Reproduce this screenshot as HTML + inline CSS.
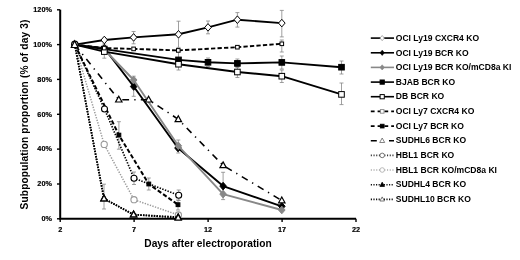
<!DOCTYPE html>
<html><head><meta charset="utf-8"><style>
html,body{margin:0;padding:0;background:#fff;}
svg{display:block;filter:grayscale(1);}
text{font-family:"Liberation Sans",sans-serif;font-weight:bold;fill:#000;}
.tk{font-size:7.3px;stroke:#000;stroke-width:0.2px;}
.lg{font-size:8.55px;}
.ti{font-size:10.2px;white-space:pre;}
</style></head><body>
<svg width="520" height="260" viewBox="0 0 520 260">
<rect width="520" height="260" fill="#fff"/>
<path d="M57.0 218.8H60.2" stroke="#000" stroke-width="1.4"/>
<text transform="translate(51.9,221.15) scale(0.92,1)" text-anchor="end" class="tk" style="font-size:7.9px">0%</text>
<path d="M57.0 184.0H60.2" stroke="#000" stroke-width="1.4"/>
<text transform="translate(51.9,186.31) scale(0.92,1)" text-anchor="end" class="tk" style="font-size:7.9px">20%</text>
<path d="M57.0 149.1H60.2" stroke="#000" stroke-width="1.4"/>
<text transform="translate(51.9,151.47) scale(0.92,1)" text-anchor="end" class="tk" style="font-size:7.9px">40%</text>
<path d="M57.0 114.3H60.2" stroke="#000" stroke-width="1.4"/>
<text transform="translate(51.9,116.63) scale(0.92,1)" text-anchor="end" class="tk" style="font-size:7.9px">60%</text>
<path d="M57.0 79.4H60.2" stroke="#000" stroke-width="1.4"/>
<text transform="translate(51.9,81.79) scale(0.92,1)" text-anchor="end" class="tk" style="font-size:7.9px">80%</text>
<path d="M57.0 44.6H60.2" stroke="#000" stroke-width="1.4"/>
<text transform="translate(51.9,46.95) scale(0.92,1)" text-anchor="end" class="tk" style="font-size:7.9px">100%</text>
<path d="M57.0 9.8H60.2" stroke="#000" stroke-width="1.4"/>
<text transform="translate(51.9,12.11) scale(0.92,1)" text-anchor="end" class="tk" style="font-size:7.9px">120%</text>
<path d="M60.2 218.8V222.0" stroke="#000" stroke-width="1.4"/>
<text transform="translate(60.2,232.3) scale(0.96,1)" text-anchor="middle" class="tk" style="font-size:7.6px">2</text>
<path d="M134.1 218.8V222.0" stroke="#000" stroke-width="1.4"/>
<text transform="translate(134.1,232.3) scale(0.96,1)" text-anchor="middle" class="tk" style="font-size:7.6px">7</text>
<path d="M208.1 218.8V222.0" stroke="#000" stroke-width="1.4"/>
<text transform="translate(208.1,232.3) scale(0.96,1)" text-anchor="middle" class="tk" style="font-size:7.6px">12</text>
<path d="M282.1 218.8V222.0" stroke="#000" stroke-width="1.4"/>
<text transform="translate(282.1,232.3) scale(0.96,1)" text-anchor="middle" class="tk" style="font-size:7.6px">17</text>
<path d="M356.0 218.8V222.0" stroke="#000" stroke-width="1.4"/>
<text transform="translate(356.0,232.3) scale(0.96,1)" text-anchor="middle" class="tk" style="font-size:7.6px">22</text>
<path d="M60.2 9.8V218.8H356.0" fill="none" stroke="#000" stroke-width="2"/>
<path d="M178.5 21.2V47.4M176.5 21.2H180.5M176.5 47.4H180.5" stroke="#888" stroke-width="0.8" fill="none"/>
<path d="M208.0 21.0V33.8M206.0 21.0H210.0M206.0 33.8H210.0" stroke="#888" stroke-width="0.8" fill="none"/>
<path d="M237.4 12.6V27.1M235.4 12.6H239.4M235.4 27.1H239.4" stroke="#888" stroke-width="0.8" fill="none"/>
<path d="M281.8 10.4V36.9M279.8 10.4H283.8M279.8 36.9H283.8" stroke="#888" stroke-width="0.8" fill="none"/>
<path d="M133.6 31.5V43.8M131.6 31.5H135.6M131.6 43.8H135.6" stroke="#888" stroke-width="0.8" fill="none"/>
<path d="M341.5 61.0V74.0M339.5 61.0H343.5M339.5 74.0H343.5" stroke="#888" stroke-width="0.8" fill="none"/>
<path d="M341.5 83.0V104.6M339.5 83.0H343.5M339.5 104.6H343.5" stroke="#888" stroke-width="0.8" fill="none"/>
<path d="M281.8 56.0V69.0M279.8 56.0H283.8M279.8 69.0H283.8" stroke="#888" stroke-width="0.8" fill="none"/>
<path d="M281.8 70.0V82.5M279.8 70.0H283.8M279.8 82.5H283.8" stroke="#888" stroke-width="0.8" fill="none"/>
<path d="M281.8 40.0V52.0M279.8 40.0H283.8M279.8 52.0H283.8" stroke="#888" stroke-width="0.8" fill="none"/>
<path d="M237.4 59.0V67.5M235.4 59.0H239.4M235.4 67.5H239.4" stroke="#888" stroke-width="0.8" fill="none"/>
<path d="M237.4 66.5V77.5M235.4 66.5H239.4M235.4 77.5H239.4" stroke="#888" stroke-width="0.8" fill="none"/>
<path d="M208.0 58.0V66.5M206.0 58.0H210.0M206.0 66.5H210.0" stroke="#888" stroke-width="0.8" fill="none"/>
<path d="M178.5 52.0V70.0M176.5 52.0H180.5M176.5 70.0H180.5" stroke="#888" stroke-width="0.8" fill="none"/>
<path d="M104.3 44.0V58.2M102.3 44.0H106.3M102.3 58.2H106.3" stroke="#888" stroke-width="0.8" fill="none"/>
<path d="M133.7 76.2V96.3M131.7 76.2H135.7M131.7 96.3H135.7" stroke="#888" stroke-width="0.8" fill="none"/>
<path d="M118.9 121.7V149.2M116.9 121.7H120.9M116.9 149.2H120.9" stroke="#888" stroke-width="0.8" fill="none"/>
<path d="M134.0 172.0V184.5M132.0 172.0H136.0M132.0 184.5H136.0" stroke="#888" stroke-width="0.8" fill="none"/>
<path d="M178.7 190.0V200.5M176.7 190.0H180.7M176.7 200.5H180.7" stroke="#888" stroke-width="0.8" fill="none"/>
<path d="M104.0 184.2V209.0M102.0 184.2H106.0M102.0 209.0H106.0" stroke="#888" stroke-width="0.8" fill="none"/>
<path d="M148.8 178.0V190.0M146.8 178.0H150.8M146.8 190.0H150.8" stroke="#888" stroke-width="0.8" fill="none"/>
<path d="M178.0 200.0V210.0M176.0 200.0H180.0M176.0 210.0H180.0" stroke="#888" stroke-width="0.8" fill="none"/>
<path d="M178.3 140.0V153.0M176.3 140.0H180.3M176.3 153.0H180.3" stroke="#888" stroke-width="0.8" fill="none"/>
<path d="M223.1 172.3V199.6M221.1 172.3H225.1M221.1 199.6H225.1" stroke="#888" stroke-width="0.8" fill="none"/>
<path d="M74.8 44.6L104.3 40.0L133.6 37.4L178.5 34.3L208.0 27.4L237.4 19.7L281.8 23.1" fill="none" stroke="#000" stroke-width="1.9" stroke-linecap="butt" stroke-linejoin="round"/>
<path d="M104.3 36.2L107.6 40.0L104.3 43.8L101.0 40.0Z" fill="#fff" stroke="#000" stroke-width="1.0"/>
<path d="M133.6 33.6L136.9 37.4L133.6 41.2L130.3 37.4Z" fill="#fff" stroke="#000" stroke-width="1.0"/>
<path d="M178.5 30.5L181.8 34.3L178.5 38.1L175.2 34.3Z" fill="#fff" stroke="#000" stroke-width="1.0"/>
<path d="M208.0 23.6L211.3 27.4L208.0 31.2L204.7 27.4Z" fill="#fff" stroke="#000" stroke-width="1.0"/>
<path d="M237.4 15.9L240.7 19.7L237.4 23.5L234.1 19.7Z" fill="#fff" stroke="#000" stroke-width="1.0"/>
<path d="M281.8 19.3L285.1 23.1L281.8 26.9L278.5 23.1Z" fill="#fff" stroke="#000" stroke-width="1.0"/>
<path d="M74.8 44.6L104.3 48.2L133.7 86.5L178.0 148.0L223.1 186.1L281.8 206.3" fill="none" stroke="#000" stroke-width="1.9" stroke-linecap="butt" stroke-linejoin="round"/>
<path d="M104.3 44.4L107.6 48.2L104.3 52.0L101.0 48.2Z" fill="#000" stroke="#000" stroke-width="1.0"/>
<path d="M133.7 82.7L137.0 86.5L133.7 90.3L130.4 86.5Z" fill="#000" stroke="#000" stroke-width="1.0"/>
<path d="M178.0 144.2L181.3 148.0L178.0 151.8L174.7 148.0Z" fill="#000" stroke="#000" stroke-width="1.0"/>
<path d="M223.1 182.3L226.4 186.1L223.1 189.9L219.8 186.1Z" fill="#000" stroke="#000" stroke-width="1.0"/>
<path d="M281.8 202.5L285.1 206.3L281.8 210.1L278.5 206.3Z" fill="#000" stroke="#000" stroke-width="1.0"/>
<path d="M74.8 44.6L104.3 49.5L133.7 80.0L178.3 145.8L223.1 194.1L281.8 210.0" fill="none" stroke="#888" stroke-width="1.9" stroke-linecap="butt" stroke-linejoin="round"/>
<path d="M104.3 45.7L107.6 49.5L104.3 53.3L101.0 49.5Z" fill="#888" stroke="#888" stroke-width="1.0"/>
<path d="M133.7 76.2L137.0 80.0L133.7 83.8L130.4 80.0Z" fill="#888" stroke="#888" stroke-width="1.0"/>
<path d="M178.3 142.0L181.6 145.8L178.3 149.6L175.0 145.8Z" fill="#888" stroke="#888" stroke-width="1.0"/>
<path d="M223.1 190.3L226.4 194.1L223.1 197.9L219.8 194.1Z" fill="#888" stroke="#888" stroke-width="1.0"/>
<path d="M281.8 206.2L285.1 210.0L281.8 213.8L278.5 210.0Z" fill="#888" stroke="#888" stroke-width="1.0"/>
<path d="M74.8 44.6L104.3 49.1L178.5 59.9L208.0 62.3L237.4 63.4L281.8 62.4L341.5 67.2" fill="none" stroke="#000" stroke-width="1.9" stroke-linecap="butt" stroke-linejoin="round"/>
<rect x="101.5" y="46.3" width="5.6" height="5.6" fill="#000" stroke="#000" stroke-width="1.0"/>
<rect x="175.7" y="57.1" width="5.6" height="5.6" fill="#000" stroke="#000" stroke-width="1.0"/>
<rect x="205.2" y="59.5" width="5.6" height="5.6" fill="#000" stroke="#000" stroke-width="1.0"/>
<rect x="234.6" y="60.6" width="5.6" height="5.6" fill="#000" stroke="#000" stroke-width="1.0"/>
<rect x="279.0" y="59.6" width="5.6" height="5.6" fill="#000" stroke="#000" stroke-width="1.0"/>
<rect x="338.7" y="64.4" width="5.6" height="5.6" fill="#000" stroke="#000" stroke-width="1.0"/>
<path d="M74.8 44.6L104.3 51.6L178.5 64.2L237.4 72.0L281.8 76.2L341.5 94.4" fill="none" stroke="#000" stroke-width="1.9" stroke-linecap="butt" stroke-linejoin="round"/>
<rect x="101.5" y="48.8" width="5.6" height="5.6" fill="#fff" stroke="#000" stroke-width="1.0"/>
<rect x="175.7" y="61.4" width="5.6" height="5.6" fill="#fff" stroke="#000" stroke-width="1.0"/>
<rect x="234.6" y="69.2" width="5.6" height="5.6" fill="#fff" stroke="#000" stroke-width="1.0"/>
<rect x="279.0" y="73.4" width="5.6" height="5.6" fill="#fff" stroke="#000" stroke-width="1.0"/>
<rect x="338.7" y="91.6" width="5.6" height="5.6" fill="#fff" stroke="#000" stroke-width="1.0"/>
<path d="M74.8 44.6L104.3 48.1L133.6 48.9L178.3 50.4L237.4 47.2L281.8 43.8" fill="none" stroke="#000" stroke-width="1.9" stroke-dasharray="4.3 2.2" stroke-linecap="butt" stroke-linejoin="round"/>
<rect x="102.5" y="46.3" width="3.6" height="3.6" fill="#fff" stroke="#000" stroke-width="1.0"/>
<rect x="131.8" y="47.1" width="3.6" height="3.6" fill="#fff" stroke="#000" stroke-width="1.0"/>
<rect x="176.5" y="48.6" width="3.6" height="3.6" fill="#fff" stroke="#000" stroke-width="1.0"/>
<rect x="235.6" y="45.4" width="3.6" height="3.6" fill="#fff" stroke="#000" stroke-width="1.0"/>
<rect x="280.0" y="42.0" width="3.6" height="3.6" fill="#fff" stroke="#000" stroke-width="1.0"/>
<path d="M74.8 44.6L118.9 135.1L148.8 184.0L178.0 204.7" fill="none" stroke="#000" stroke-width="2.0" stroke-dasharray="4.3 2.2" stroke-linecap="butt" stroke-linejoin="round"/>
<rect x="117.0" y="133.2" width="3.8" height="3.8" fill="#000" stroke="#000" stroke-width="1.0"/>
<rect x="146.9" y="182.1" width="3.8" height="3.8" fill="#000" stroke="#000" stroke-width="1.0"/>
<rect x="176.1" y="202.8" width="3.8" height="3.8" fill="#000" stroke="#000" stroke-width="1.0"/>
<path d="M74.8 44.6L118.8 99.7L148.6 99.7L178.3 119.3L223.1 165.4L281.8 200.5" fill="none" stroke="#000" stroke-width="1.6" stroke-dasharray="6.8 5.2 1.3 5.2" stroke-linecap="butt" stroke-linejoin="round"/>
<path d="M118.8 96.2L122.0 102.0L115.6 102.0Z" fill="#fff" stroke="#000" stroke-width="1.2" stroke-linejoin="miter"/>
<path d="M148.6 96.2L151.8 102.0L145.4 102.0Z" fill="#fff" stroke="#000" stroke-width="1.2" stroke-linejoin="miter"/>
<path d="M178.3 115.8L181.5 121.6L175.1 121.6Z" fill="#fff" stroke="#000" stroke-width="1.2" stroke-linejoin="miter"/>
<path d="M223.1 161.9L226.3 167.7L219.9 167.7Z" fill="#fff" stroke="#000" stroke-width="1.2" stroke-linejoin="miter"/>
<path d="M281.8 197.0L285.0 202.8L278.6 202.8Z" fill="#fff" stroke="#000" stroke-width="1.2" stroke-linejoin="miter"/>
<path d="M74.8 44.6L104.5 109.0L134.0 178.2L178.7 195.3" fill="none" stroke="#000" stroke-width="1.7" stroke-dasharray="1.4 1.4" stroke-linecap="butt" stroke-linejoin="round"/>
<circle cx="104.5" cy="109.0" r="3.0" fill="#fff" stroke="#000" stroke-width="1.1"/>
<circle cx="134.0" cy="178.2" r="3.0" fill="#fff" stroke="#000" stroke-width="1.1"/>
<circle cx="178.7" cy="195.3" r="3.0" fill="#fff" stroke="#000" stroke-width="1.1"/>
<path d="M74.8 44.6L104.2 144.4L134.0 199.7L178.4 215.0" fill="none" stroke="#999" stroke-width="1.5" stroke-dasharray="1.3 1.4" stroke-linecap="butt" stroke-linejoin="round"/>
<circle cx="104.2" cy="144.4" r="3.1" fill="#fff" stroke="#999" stroke-width="1.1"/>
<circle cx="134.0" cy="199.7" r="3.1" fill="#fff" stroke="#999" stroke-width="1.1"/>
<circle cx="178.4" cy="215.0" r="3.1" fill="#fff" stroke="#999" stroke-width="1.1"/>
<path d="M74.8 44.6L104.0 198.6L133.6 214.6L178.2 217.2" fill="none" stroke="#000" stroke-width="1.9" stroke-dasharray="1.5 1.2" stroke-linecap="butt" stroke-linejoin="round"/>
<path d="M104.0 195.1L107.2 200.9L100.8 200.9Z" fill="#000" stroke="#000" stroke-width="1.2" stroke-linejoin="miter"/>
<path d="M133.6 211.1L136.8 216.9L130.4 216.9Z" fill="#000" stroke="#000" stroke-width="1.2" stroke-linejoin="miter"/>
<path d="M178.2 213.7L181.4 219.5L175.0 219.5Z" fill="#000" stroke="#000" stroke-width="1.2" stroke-linejoin="miter"/>
<path d="M74.8 44.6L104.0 198.6L133.6 214.6L178.2 217.8" fill="none" stroke="#000" stroke-width="1.6" stroke-dasharray="1.4 1.3" stroke-linecap="butt" stroke-linejoin="round"/>
<path d="M104.0 195.1L107.2 200.9L100.8 200.9Z" fill="#fff" stroke="#000" stroke-width="1.2" stroke-linejoin="miter"/>
<path d="M133.6 211.1L136.8 216.9L130.4 216.9Z" fill="#fff" stroke="#000" stroke-width="1.2" stroke-linejoin="miter"/>
<path d="M178.2 214.3L181.4 220.1L175.0 220.1Z" fill="#fff" stroke="#000" stroke-width="1.2" stroke-linejoin="miter"/>
<circle cx="74.8" cy="44.4" r="3.2" fill="#fff" stroke="#000" stroke-width="1.2"/>
<path d="M74.6 40.8L78.0 47.5L71.3 47.5Z" fill="#fff" stroke="#000" stroke-width="1.2"/>
<path d="M370.8 38.1H394.0" stroke="#000" stroke-width="1.6"/>
<path d="M382.2 35.5L384.4 38.1L382.2 40.7L380.0 38.1Z" fill="#fff" stroke="#999" stroke-width="0.8"/>
<text x="395.8" y="40.85" class="lg">OCI Ly19 CXCR4 KO</text>
<path d="M370.8 52.8H394.0" stroke="#000" stroke-width="1.6"/>
<path d="M382.2 50.2L384.4 52.8L382.2 55.4L380.0 52.8Z" fill="#000" stroke="#000" stroke-width="0.6"/>
<text x="395.8" y="55.51" class="lg">OCI Ly19 BCR KO</text>
<path d="M370.8 67.4H394.0" stroke="#888" stroke-width="1.6"/>
<path d="M382.2 64.8L384.4 67.4L382.2 70.0L380.0 67.4Z" fill="#888" stroke="#888" stroke-width="0.6"/>
<text x="395.8" y="70.17" class="lg">OCI Ly19 BCR KO/mCD8a KI</text>
<path d="M370.8 82.1H394.0" stroke="#000" stroke-width="1.6"/>
<rect x="380.1" y="80.0" width="4.2" height="4.2" fill="#000" stroke="#000" stroke-width="1.0"/>
<text x="395.8" y="84.83" class="lg">BJAB BCR KO</text>
<path d="M370.8 96.7H394.0" stroke="#000" stroke-width="1.6"/>
<rect x="380.1" y="94.6" width="4.2" height="4.2" fill="#fff" stroke="#000" stroke-width="1.0"/>
<text x="395.8" y="99.49" class="lg">DB BCR KO</text>
<path d="M370.8 111.4H394.0" stroke="#000" stroke-width="1.6" stroke-dasharray="3.8 3"/>
<rect x="380.4" y="109.6" width="3.6" height="3.6" fill="#fff" stroke="#888" stroke-width="0.9"/>
<text x="395.8" y="114.15" class="lg">OCI Ly7 CXCR4 KO</text>
<path d="M370.8 126.1H394.0" stroke="#000" stroke-width="1.6" stroke-dasharray="3.8 3"/>
<rect x="380.3" y="124.2" width="3.8" height="3.8" fill="#000" stroke="#000" stroke-width="0.8"/>
<text x="395.8" y="128.81" class="lg">OCI Ly7 BCR KO</text>
<path d="M370.8 140.7H394.0" stroke="#000" stroke-width="1.6" stroke-dasharray="6 12.2 5.4 10"/>
<path d="M382.2 138.0L384.7 142.5L379.7 142.5Z" fill="#fff" stroke="#666" stroke-width="0.8" stroke-linejoin="miter"/>
<text x="395.8" y="143.47" class="lg">SUDHL6 BCR KO</text>
<path d="M370.8 155.4H394.0" stroke="#333" stroke-width="1.6" stroke-dasharray="1.1 1.6"/>
<circle cx="382.2" cy="155.4" r="2.3" fill="#fff" stroke="#555" stroke-width="0.8"/>
<text x="395.8" y="158.13" class="lg">HBL1 BCR KO</text>
<path d="M370.8 170.0H394.0" stroke="#aaa" stroke-width="1.6" stroke-dasharray="1.1 1.6"/>
<circle cx="382.2" cy="170.0" r="2.3" fill="#fff" stroke="#aaa" stroke-width="0.8"/>
<text x="395.8" y="172.79" class="lg">HBL1 BCR KO/mCD8a KI</text>
<path d="M370.8 184.7H394.0" stroke="#111" stroke-width="1.6" stroke-dasharray="1.2 1.4"/>
<path d="M382.2 182.2L384.5 186.4L379.9 186.4Z" fill="#000" stroke="#000" stroke-width="0.8" stroke-linejoin="miter"/>
<text x="395.8" y="187.45" class="lg">SUDHL4 BCR KO</text>
<path d="M370.8 199.4H394.0" stroke="#111" stroke-width="1.6" stroke-dasharray="1.2 1.4"/>
<path d="M382.2 196.9L384.5 201.0L379.9 201.0Z" fill="#fff" stroke="#555" stroke-width="0.8" stroke-linejoin="miter"/>
<text x="395.8" y="202.11" class="lg">SUDHL10 BCR KO</text>
<text x="208.0" y="246.6" text-anchor="middle" class="ti" style="letter-spacing:0.05px">Days after electroporation</text>
<text transform="translate(28,114.5) rotate(-90)" text-anchor="middle" class="ti" style="letter-spacing:0.115px">Subpopulation proportion (% of day 3)</text>
</svg>
</body></html>
